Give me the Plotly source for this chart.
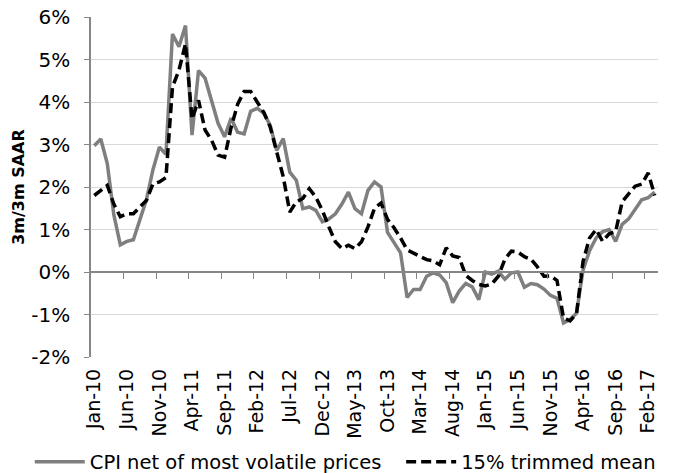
import plotly.graph_objects as go

months = ["Jan", "Feb", "Mar", "Apr", "May", "Jun", "Jul", "Aug", "Sep", "Oct", "Nov", "Dec"]
dates = [f"{months[(i) % 12]}-{10 + i // 12}" for i in range(87)]  # Jan-10 .. Mar-17

cpi_net = [
    2.97, 3.13, 2.55, 1.35, 0.64, 0.72, 0.76, 1.2, 1.7, 2.4,
    2.94, 2.77, 5.6, 5.3, 5.8, 3.22, 4.74, 4.56, 4.05, 3.5,
    3.18, 3.62, 3.29, 3.25, 3.78, 3.85, 3.74, 3.45, 2.86, 3.14,
    2.35, 2.16, 1.49, 1.53, 1.45, 1.18, 1.25, 1.37, 1.6, 1.88,
    1.49, 1.37, 1.92, 2.12, 2.0, 0.93, 0.69, 0.45, -0.6, -0.41,
    -0.41, -0.1, -0.02, -0.07, -0.25, -0.72, -0.45, -0.27, -0.35, -0.65,
    0.0, -0.05, 0.02, -0.17, -0.02, 0.0, -0.36, -0.27, -0.3, -0.4,
    -0.55, -0.62, -1.2, -1.12, -0.97, 0.05, 0.5, 0.8, 0.95, 1.0,
    0.72, 1.12, 1.25, 1.47, 1.7, 1.75, 1.88,
]

trimmed_mean = [
    1.8, 1.92, 2.04, 1.6, 1.3, 1.37, 1.37, 1.53, 1.68, 2.07,
    2.12, 2.22, 4.35, 4.75, 5.37, 3.6, 4.04, 3.34, 3.1, 2.75,
    2.7, 3.4, 3.95, 4.25, 4.25, 4.0, 3.76, 3.41, 2.86, 2.24,
    1.41, 1.65, 1.73, 1.96, 1.76, 1.45, 1.06, 0.71, 0.55, 0.63,
    0.55, 0.71, 1.06, 1.5, 1.62, 1.24, 1.04, 0.8, 0.52, 0.44,
    0.36, 0.29, 0.26, 0.17, 0.57, 0.38, 0.34, -0.08, -0.2, -0.29,
    -0.33, -0.28, -0.1, 0.3, 0.49, 0.47, 0.36, 0.3, 0.12, -0.1,
    -0.09, -0.2, -1.08, -1.15, -0.98, 0.25, 0.8, 1.0, 0.72, 0.9,
    0.95, 1.65, 1.84, 2.02, 2.07, 2.33, 1.8,
]

tick_idx = list(range(0, 87, 5))
tick_text = [dates[i] for i in tick_idx]
boundary_ticks = [i - 0.5 for i in range(5, 87, 5)]
y_ticks = list(range(-2, 7))

x = list(range(len(dates)))
FONT = "DejaVu Sans"

fig = go.Figure()
fig.add_trace(go.Scatter(
    x=x, y=cpi_net, mode="lines", name="CPI net of most volatile prices",
    line=dict(color="#7f7f7f", width=3.5), legend="legend",
))
fig.add_trace(go.Scatter(
    x=x, y=trimmed_mean, mode="lines", name="15% trimmed mean",
    line=dict(color="#000000", width=3.5, dash="10px,5px"), legend="legend2",
))

legend_common = dict(
    orientation="h", xanchor="left", y=-0.309, yanchor="middle",
    font=dict(size=19.5, family=FONT), itemwidth=50,
    bgcolor="rgba(0,0,0,0)",
)

# the page adds an 8px body margin, so the figure is sized to fit the 673x473 window
fig.update_layout(
    width=665, height=465,
    margin=dict(l=83, r=15, t=9, b=116, autoexpand=False),
    paper_bgcolor="white", plot_bgcolor="white",
    font=dict(family=FONT, color="#000000"),
    showlegend=True,
    legend=dict(x=-0.108, **legend_common),
    legend2=dict(x=0.547, **legend_common),
    xaxis=dict(
        range=[-0.5, 86.5], tickmode="array", tickvals=tick_idx, ticktext=tick_text,
        tickangle=-90, tickfont=dict(size=19, family=FONT),
        showgrid=False, zeroline=False, showline=False, ticks="",
        ticklabelstandoff=7,
    ),
    xaxis2=dict(
        range=[-0.5, 86.5], overlaying="x", anchor="free", position=0.25,
        showline=True, linecolor="#868686", linewidth=1.5,
        ticks="outside", tickvals=boundary_ticks, ticklen=6, tickcolor="#868686",
        tickwidth=1.2, showticklabels=False, showgrid=False, zeroline=False,
    ),
    yaxis=dict(
        range=[-2, 6], tickmode="array", tickvals=y_ticks,
        ticktext=[f"{v}%" for v in y_ticks],
        tickfont=dict(size=20, family=FONT),
        ticklabeloverflow="allow",
        showgrid=True, gridcolor="#d9d9d9", gridwidth=1.2,
        zeroline=False, showline=True, linecolor="#868686", linewidth=1.5,
        ticks="outside", ticklen=5, tickcolor="#868686",
        ticklabelstandoff=10,
        title=dict(text="<b>3m/3m SAAR</b>", font=dict(size=16, family=FONT), standoff=3),
    ),
)
# invisible trace to activate xaxis2
fig.add_trace(go.Scatter(x=[0], y=[None], xaxis="x2", showlegend=False, hoverinfo="skip"))

fig.write_html("out.html")
